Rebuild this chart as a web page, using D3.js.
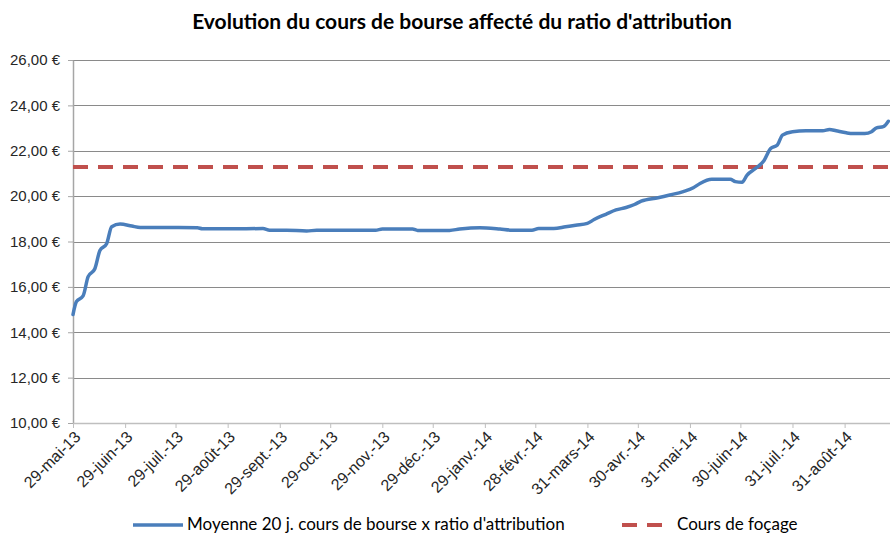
<!DOCTYPE html>
<html>
<head>
<meta charset="utf-8">
<script src="https://cdn.jsdelivr.net/npm/d3@7"></script>
<style>
  body { margin: 0; background: #fff; }
  svg { display: block; }
  .tick text { font-family: "Liberation Sans", Arial, sans-serif; font-size: 15px; fill: #262626; }
  .x-axis .tick text { font-size: 16px; }
</style>
</head>
<body>
<div id="chart"></div>
<script>
// Données
const dates = ["2013-05-29","2013-05-31","2013-06-04","2013-06-07","2013-06-11","2013-06-14","2013-06-18","2013-06-21",
  "2013-06-26","2013-07-03","2013-07-08","2013-07-26","2013-08-11","2013-08-14","2013-08-30","2013-09-19","2013-09-23",
  "2013-10-03","2013-10-15","2013-10-21","2013-11-25","2013-11-29","2013-12-17","2013-12-20","2014-01-08","2014-01-14",
  "2014-01-26","2014-01-30","2014-02-07","2014-02-14","2014-02-26","2014-03-02","2014-03-11","2014-03-18","2014-03-24",
  "2014-03-31","2014-04-04","2014-04-11","2014-04-17","2014-04-23","2014-04-28","2014-05-02","2014-05-12","2014-05-19",
  "2014-05-27","2014-06-02","2014-06-06","2014-06-13","2014-06-24","2014-06-27","2014-07-01","2014-07-04","2014-07-09",
  "2014-07-14","2014-07-18","2014-07-22","2014-07-25","2014-07-31","2014-08-08","2014-08-18","2014-08-22","2014-08-26",
  "2014-09-01","2014-09-05","2014-09-12","2014-09-16","2014-09-19","2014-09-23","2014-09-26"];
const moyenne = [14.78,15.35,15.6,16.45,16.8,17.6,17.9,18.65,
  18.77,18.68,18.62,18.62,18.61,18.56,18.56,18.57,18.5,
  18.5,18.46,18.5,18.5,18.55,18.55,18.49,18.49,18.55,
  18.61,18.6,18.55,18.5,18.5,18.57,18.57,18.65,18.72,
  18.8,18.97,19.2,19.39,19.5,19.63,19.78,19.93,20.05,
  20.2,20.37,20.56,20.74,20.74,20.64,20.61,20.93,21.22,
  21.56,22.1,22.25,22.69,22.84,22.88,22.88,22.94,22.88,
  22.79,22.76,22.76,22.84,23.01,23.06,23.3];
const coursForcage = 21.28;

const xTickDates = ["2013-05-29","2013-06-29","2013-07-29","2013-08-29","2013-09-29","2013-10-29","2013-11-29",
  "2013-12-29","2014-01-29","2014-02-28","2014-03-31","2014-04-30","2014-05-31","2014-06-30","2014-07-31","2014-08-31"];
const xTickLabels = ["29-mai-13","29-juin-13","29-juil.-13","29-août-13","29-sept.-13","29-oct.-13","29-nov.-13",
  "29-déc.-13","29-janv.-14","28-févr.-14","31-mars-14","30-avr.-14","31-mai-14","30-juin-14","31-juil.-14","31-août-14"];
const yTicks = [10, 12, 14, 16, 18, 20, 22, 24, 26];

const labelsSerie = ["Moyenne 20 j. cours de bourse x ratio d'attribution", "Cours de foçage"];
const titre = "Evolution du cours de bourse affecté du ratio d'attribution";

//---------------------------------------------------------------------------------------

const width = 890;
const height = 535;
const plotLeft = 73, plotRight = 890, plotTop = 60, plotBottom = 423;

const parse = d3.timeParse("%Y-%m-%d");
const data = dates.map((d, i) => ({ date: parse(d), value: moyenne[i] }));

const svg = d3.select("#chart")
  .append("svg")
  .attr("width", width)
  .attr("height", height);

// échelles
const scaleX = d3.scaleTime()
  .domain([parse("2013-05-29"), parse("2014-09-27")])
  .range([plotLeft, plotRight]);

const scaleY = d3.scaleLinear()
  .domain([10, 26])
  .range([plotBottom, plotTop]);

// grille horizontale
svg.append("g")
  .selectAll("line")
  .data(yTicks.filter(v => v > 10))
  .join("line")
  .attr("x1", plotLeft)
  .attr("x2", plotRight)
  .attr("y1", d => Math.round(scaleY(d)) + 0.5)
  .attr("y2", d => Math.round(scaleY(d)) + 0.5)
  .attr("stroke", "#8a8a8a")
  .attr("stroke-width", 1);

// axe Y
const yAxis = svg.append("g")
  .attr("transform", `translate(${plotLeft}, 0)`)
  .call(d3.axisLeft(scaleY)
    .tickValues(yTicks)
    .tickFormat(d => d3.format(".2f")(d).replace(".", ",") + " €")
    .tickSize(5)
    .tickSizeOuter(0)
    .tickPadding(8));
yAxis.select(".domain").attr("stroke", "#a6a6a6").attr("stroke-width", 1.5);
yAxis.selectAll(".tick line").attr("stroke", "#a6a6a6");

// axe X
const xAxis = svg.append("g")
  .attr("class", "x-axis")
  .attr("transform", `translate(0, ${plotBottom})`)
  .call(d3.axisBottom(scaleX)
    .tickValues(xTickDates.map(parse))
    .tickFormat((d, i) => xTickLabels[i])
    .tickSize(5)
    .tickSizeOuter(0));
xAxis.select(".domain").attr("stroke", "#bfbfbf").attr("stroke-width", 1.5);
xAxis.selectAll(".tick line").attr("stroke", "#bfbfbf");
xAxis.selectAll("text")
  .attr("text-anchor", "end")
  .attr("dy", "0")
  .attr("y", 0)
  .attr("transform", "translate(8, 15) rotate(-45)");

// ligne du cours de forçage
svg.append("line")
  .attr("x1", plotLeft)
  .attr("x2", plotRight)
  .attr("y1", scaleY(coursForcage))
  .attr("y2", scaleY(coursForcage))
  .attr("stroke", "#c0504d")
  .attr("stroke-width", 4)
  .attr("stroke-dasharray", "15,10");

// courbe moyenne
const line = d3.line()
  .x(d => scaleX(d.date))
  .y(d => scaleY(d.value))
  .curve(d3.curveMonotoneX);

svg.append("path")
  .datum(data)
  .attr("d", line)
  .attr("fill", "none")
  .attr("stroke", "#4a7ebb")
  .attr("stroke-width", 3.5)
  .attr("stroke-linejoin", "round")
  .attr("stroke-linecap", "round");

// titre
svg.append("text")
  .attr("x", 462)
  .attr("y", 29)
  .attr("text-anchor", "middle")
  .attr("font-family", "Lato, 'Open Sans', sans-serif")
  .attr("font-weight", "bold")
  .attr("font-size", "21px")
  .attr("fill", "#000")
  .text(titre);

// légende
const leg = svg.append("g")
  .attr("font-family", "Lato, 'Open Sans', sans-serif")
  .attr("font-size", "17px")
  .attr("fill", "#000");

leg.append("line")
  .attr("x1", 133).attr("x2", 183)
  .attr("y1", 525).attr("y2", 525)
  .attr("stroke", "#4a7ebb")
  .attr("stroke-width", 3.5);
leg.append("text")
  .attr("x", 187).attr("y", 530)
  .text(labelsSerie[0]);

leg.append("line")
  .attr("x1", 622).attr("x2", 662)
  .attr("y1", 525).attr("y2", 525)
  .attr("stroke", "#c0504d")
  .attr("stroke-width", 4)
  .attr("stroke-dasharray", "15,10");
leg.append("text")
  .attr("x", 677).attr("y", 530)
  .text(labelsSerie[1]);
</script>
</body>
</html>
